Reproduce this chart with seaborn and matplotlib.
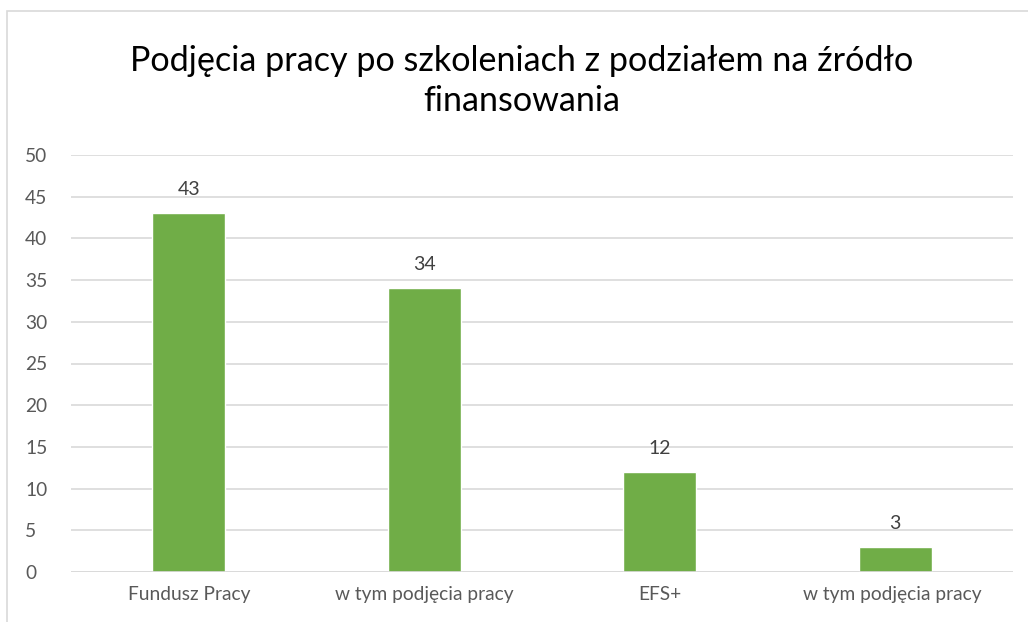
import seaborn as sns
import matplotlib.pyplot as plt
import pandas as pd
from matplotlib.patches import Rectangle

categories = ['Fundusz Pracy', 'w tym podjęcia pracy', 'EFS+', 'w tym podjęcia pracy ']
values = [43, 34, 12, 3]
yticks = [0, 5, 10, 15, 20, 25, 30, 35, 40, 45, 50]
title = 'Podjęcia pracy po szkoleniach z podziałem na źródło\nfinansowania'


def operation():
    sns.set_style('white')
    plt.rcParams['font.family'] = ['Lato', 'DejaVu Sans']

    df = pd.DataFrame({'kat': categories, 'wartosc': values})

    fig = plt.figure(figsize=(10.28, 6.22), dpi=100)
    ax = fig.add_axes([71 / 1028, 1 - 572 / 622, (1013 - 71) / 1028, (572 - 155) / 622])

    sns.barplot(data=df, x='kat', y='wartosc', color='#70AD47', width=0.31,
                saturation=1, ax=ax, zorder=3)

    ax.set_ylim(0, 50)
    ax.set_yticks(yticks)
    ax.set_xlim(-0.5, len(categories) - 0.5)
    ax.grid(axis='y', color='#D9D9D9', linewidth=1.2, zorder=0)
    for s in ax.spines.values():
        s.set_visible(False)
    ax.axhline(0, color='#D9D9D9', linewidth=1.2, zorder=4)
    ax.set_xlabel('')
    ax.set_ylabel('')
    ax.tick_params(axis='both', length=0, labelsize=13.8, labelcolor='#595959')
    ax.tick_params(axis='y', pad=33)
    ax.tick_params(axis='x', pad=10)
    for lab in ax.get_yticklabels():
        lab.set_horizontalalignment('left')

    # value labels
    for cont in ax.containers:
        ax.bar_label(cont, padding=11, fontsize=14, color='#404040')

    fig.text(522 / 1028, 1 - 81 / 622, title, ha='center', va='center',
             fontsize=24.6, color='#000000', linespacing=1.3)

    # chart frame
    fig.patches.append(Rectangle((7 / 1028, -0.1), 1.2, 1 - 11 / 622 + 0.1,
                                 transform=fig.transFigure, fill=False,
                                 edgecolor='#D9D9D9', linewidth=1.2))

    fig.savefig('out.png', dpi=100)


if __name__ == "__main__":
    operation()
